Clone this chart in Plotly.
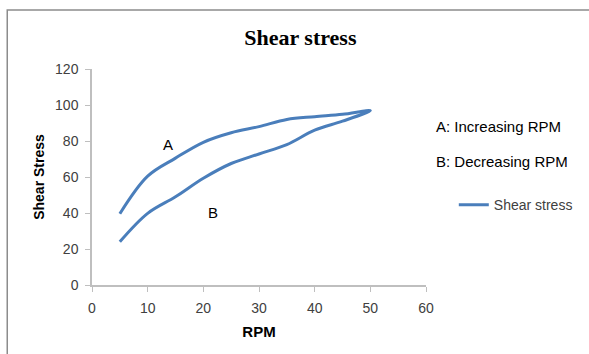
import plotly.graph_objects as go

rpm = [5, 10, 15, 20, 25, 30, 35, 40, 45, 50, 45, 40, 35, 30, 25, 20, 15, 10, 5]
shear = [39.6, 60.5, 70.5, 79.3, 84.6, 88, 92, 93.5, 94.8, 96.9,
         91, 86, 78, 72.8, 67.5, 59.3, 49, 39.8, 24]
x_ticks = [0, 10, 20, 30, 40, 50, 60]
y_ticks = [0, 20, 40, 60, 80, 100, 120]

fig = go.Figure()
fig.add_trace(go.Scatter(x=rpm, y=shear, mode="lines", name="Shear stress",
                         line=dict(color="#4A7EBB", width=3, shape="spline", smoothing=1.0)))

tick_font = dict(family="Liberation Sans, Arial", size=14, color="#404040")
axis_common = dict(showgrid=False, zeroline=False, showline=True, linecolor="#BFBFBF",
                   linewidth=1.5, ticks="outside", ticklen=5, tickcolor="#BFBFBF",
                   tickfont=tick_font, ticklabelstandoff=4)
fig.update_layout(
    width=589, height=354,
    margin=dict(l=92, r=162, t=69, b=69),
    paper_bgcolor="white", plot_bgcolor="white",
    title=dict(text="<b>Shear stress</b>", x=0.51, xanchor="center", y=0.895, yanchor="middle",
               font=dict(family="Liberation Serif, Times New Roman", size=22, color="black")),
    xaxis=dict(range=[0, 60], tickvals=x_ticks, **axis_common,
               title=dict(text="<b>RPM</b>", font=dict(family="Liberation Sans, Arial", size=15, color="black"),
                          standoff=12)),
    yaxis=dict(range=[0, 120], tickvals=y_ticks, **axis_common,
               title=dict(text="<b>Shear Stress</b>", font=dict(family="Liberation Sans, Arial", size=14, color="black"),
                          standoff=7)),
    showlegend=True,
    legend=dict(x=1.08, y=0.37, xanchor="left", yanchor="middle", bgcolor="rgba(0,0,0,0)",
                font=dict(family="Liberation Sans, Arial", size=14, color="#404040"),
                itemwidth=30),
)

ann_font = dict(family="Liberation Sans, Arial", size=15, color="black")
fig.add_annotation(x=13.6, y=77.8, text="A", showarrow=False, font=ann_font)
fig.add_annotation(x=21.8, y=40.5, text="B", showarrow=False, font=ann_font)
fig.add_annotation(xref="paper", yref="paper", x=1.025, y=(285 - 116) / 216, text="A: Increasing RPM",
                   showarrow=False, xanchor="left", font=ann_font)
fig.add_annotation(xref="paper", yref="paper", x=1.025, y=(285 - 161) / 216, text="B: Decreasing RPM",
                   showarrow=False, xanchor="left", font=ann_font)

# outer chart border (cut off at right/bottom edge as in reference)
fig.add_shape(type="rect", xref="paper", yref="paper",
              x0=(7 - 92) / 335, x1=(600 - 92) / 335, y0=(285 - 360) / 216, y1=(285 - 10) / 216,
              line=dict(color="#8C8C8C", width=1.5), fillcolor="rgba(0,0,0,0)", layer="below")

fig.write_html("out.html")
